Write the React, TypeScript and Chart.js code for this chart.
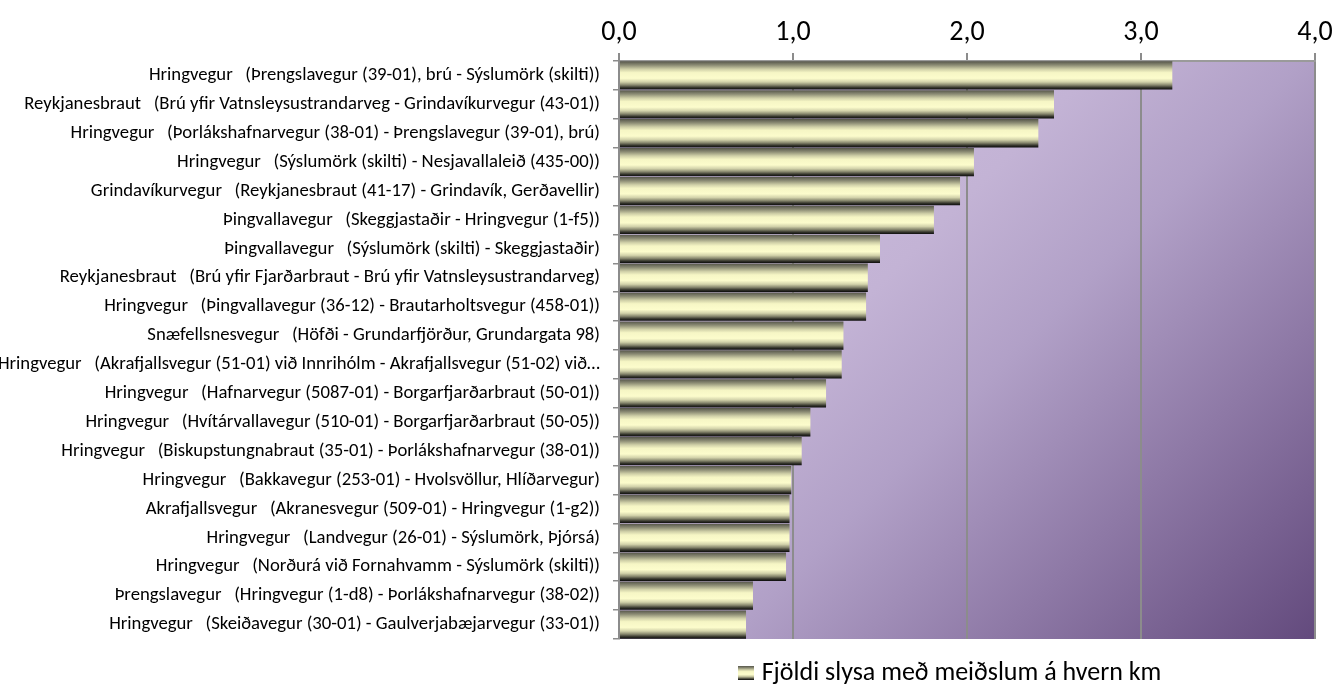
import React, { useEffect, useRef } from 'react';
import { Chart, registerables } from 'chart.js';

Chart.register(...registerables);

const categories: string[] = [
  'Hringvegur   (Þrengslavegur (39-01), brú - Sýslumörk (skilti))',
  'Reykjanesbraut   (Brú yfir Vatnsleysustrandarveg - Grindavíkurvegur (43-01))',
  'Hringvegur   (Þorlákshafnarvegur (38-01) - Þrengslavegur (39-01), brú)',
  'Hringvegur   (Sýslumörk (skilti) - Nesjavallaleið (435-00))',
  'Grindavíkurvegur   (Reykjanesbraut (41-17) - Grindavík, Gerðavellir)',
  'Þingvallavegur   (Skeggjastaðir - Hringvegur (1-f5))',
  'Þingvallavegur   (Sýslumörk (skilti) - Skeggjastaðir)',
  'Reykjanesbraut   (Brú yfir Fjarðarbraut - Brú yfir Vatnsleysustrandarveg)',
  'Hringvegur   (Þingvallavegur (36-12) - Brautarholtsvegur (458-01))',
  'Snæfellsnesvegur   (Höfði - Grundarfjörður, Grundargata 98)',
  'Hringvegur   (Akrafjallsvegur (51-01) við Innrihólm - Akrafjallsvegur (51-02) við…',
  'Hringvegur   (Hafnarvegur (5087-01) - Borgarfjarðarbraut (50-01))',
  'Hringvegur   (Hvítárvallavegur (510-01) - Borgarfjarðarbraut (50-05))',
  'Hringvegur   (Biskupstungnabraut (35-01) - Þorlákshafnarvegur (38-01))',
  'Hringvegur   (Bakkavegur (253-01) - Hvolsvöllur, Hlíðarvegur)',
  'Akrafjallsvegur   (Akranesvegur (509-01) - Hringvegur (1-g2))',
  'Hringvegur   (Landvegur (26-01) - Sýslumörk, Þjórsá)',
  'Hringvegur   (Norðurá við Fornahvamm - Sýslumörk (skilti))',
  'Þrengslavegur   (Hringvegur (1-d8) - Þorlákshafnarvegur (38-02))',
  'Hringvegur   (Skeiðavegur (30-01) - Gaulverjabæjarvegur (33-01))',
];

const values: number[] = [
  3.18, 2.5, 2.41, 2.04, 1.96, 1.81, 1.5, 1.43, 1.42, 1.29,
  1.28, 1.19, 1.1, 1.05, 0.99, 0.98, 0.98, 0.96, 0.77, 0.73,
];

const xTickValues: number[] = [0, 1, 2, 3, 4];
const xTickLabels: string[] = ['0,0', '1,0', '2,0', '3,0', '4,0'];
const seriesLabel = 'Fjöldi slysa með meiðslum á hvern km';

const FONT = 'Carlito, Calibri, Lato, sans-serif';

const BAR_STOPS: [number, string][] = [
  [0, '#55554a'],
  [0.14, '#8e8e76'],
  [0.28, '#d0d0a8'],
  [0.4, '#f6f6c5'],
  [0.6, '#fcfccc'],
  [0.73, '#d2d2aa'],
  [0.84, '#86866d'],
  [0.93, '#34342b'],
  [1, '#0c0c0c'],
];

const BG_STOPS: [number, string][] = [
  [0, '#d0c4e2'],
  [0.38, '#c3b3d5'],
  [0.54, '#b1a0c7'],
  [0.75, '#8e79a6'],
  [1, '#634a7d'],
];

function makeLegendBox(): HTMLCanvasElement {
  const c = document.createElement('canvas');
  c.width = 16;
  c.height = 14;
  const g = c.getContext('2d')!;
  const grad = g.createLinearGradient(0, 0, 0, 14);
  BAR_STOPS.forEach(([o, col]) => grad.addColorStop(o, col));
  g.fillStyle = grad;
  g.fillRect(0, 0, 16, 14);
  return c;
}

const BAR_PCT = 0.98;

export default function App() {
  const ref = useRef<HTMLCanvasElement | null>(null);

  useEffect(() => {
    if (!ref.current) return;
    const legendBox = makeLegendBox();

    const bgPlugin = {
      id: 'plotBg',
      beforeDraw(chart: any) {
        const { ctx, chartArea } = chart;
        if (!chartArea) return;
        const { left, top, right, bottom } = chartArea;
        const w = right - left;
        const h = bottom - top;
        const d = (w + h) / 2;
        const grad = ctx.createLinearGradient(left, top, left + d, top + d);
        BG_STOPS.forEach(([o, col]) => grad.addColorStop(o, col));
        ctx.save();
        ctx.fillStyle = grad;
        ctx.fillRect(left, top, w, h);
        ctx.restore();
        if (chart.legend) {
          const lg = chart.legend;
          const center = 952;
          const halfSpan = (lg.right - lg.left) / 2;
          lg.left = center - halfSpan;
          lg.right = center + halfSpan;
        }
      },
    };

    const chart = new Chart(ref.current, {
      type: 'bar',
      data: {
        labels: categories,
        datasets: [
          {
            label: seriesLabel,
            data: values,
            borderWidth: 0,
            categoryPercentage: 1,
            barPercentage: BAR_PCT,
            backgroundColor: (c: any) => {
              const ch = c.chart;
              const y = ch.scales && ch.scales.y;
              if (!y || c.type !== 'data' || !ch.chartArea) return '#f6f6c5';
              const center = y.getPixelForValue(c.dataIndex);
              const band = Math.abs(y.getPixelForValue(1) - y.getPixelForValue(0));
              const h = band * BAR_PCT;
              const grad = ch.ctx.createLinearGradient(0, center - h / 2, 0, center + h / 2);
              BAR_STOPS.forEach(([o, col]) => grad.addColorStop(o, col));
              return grad;
            },
          },
        ],
      },
      options: {
        indexAxis: 'y',
        animation: false,
        responsive: false,
        maintainAspectRatio: false,
        layout: { padding: { left: 0, right: 22, top: 0, bottom: -10 } },
        plugins: {
          tooltip: { enabled: false },
          legend: {
            display: true,
            position: 'bottom',
            labels: {
              font: { family: FONT, size: 26 },
              color: '#000',
              usePointStyle: true,
              pointStyle: legendBox as any,
              pointStyleWidth: 6,
              padding: 21,
            },
          },
        },
        scales: {
          x: {
            type: 'linear',
            position: 'top',
            min: 0,
            max: 4,
            afterBuildTicks: (s: any) => {
              s.ticks = xTickValues.map((v) => ({ value: v }));
            },
            ticks: {
              callback: (v: any) => {
                const i = xTickValues.indexOf(Number(v));
                return i >= 0 ? xTickLabels[i] : '';
              },
              font: { family: FONT, size: 28 },
              color: '#000',
              padding: 3,
              maxRotation: 0,
            },
            grid: { color: '#8c8c8c', lineWidth: 2, tickLength: 8 },
            border: { color: '#9a9a9a', width: 2 },
            afterFit: (s: any) => {
              s.height = 61;
            },
          },
          y: {
            type: 'category',
            offset: true,
            ticks: {
              font: { family: FONT, size: 18.7 },
              color: '#000',
              padding: 13,
              autoSkip: false,
            },
            grid: {
              drawOnChartArea: false,
              offset: true,
              tickLength: 6,
              color: '#8c8c8c',
              lineWidth: 1.5,
            },
            border: { color: '#8c8c8c', width: 2 },
            afterFit: (s: any) => {
              s.width = 619;
            },
          },
        },
      },
      plugins: [bgPlugin],
    } as any);

    return () => chart.destroy();
  }, []);

  return (
    <div style={{ position: 'fixed', left: 0, top: 0, width: 1337, height: 686, background: '#fff' }}>
      <canvas ref={ref} width={1337} height={686} style={{ display: 'block' }} />
    </div>
  );
}
